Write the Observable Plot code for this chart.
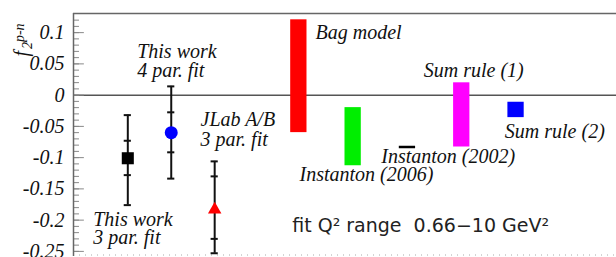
<!DOCTYPE html>
<html><head><meta charset="utf-8">
<script src="https://cdn.jsdelivr.net/npm/d3@7"></script>
<script src="https://cdn.jsdelivr.net/npm/@observablehq/plot@0.6"></script>
<style>body{margin:0;background:#fff;overflow:hidden}</style>
</head><body><div id="chart"></div>
<script>
// Measurements (points with inner/outer error bars)
const measNames = ["This work 3 par. fit", "This work 4 par. fit", "JLab A/B 3 par. fit"];
const measX = [1.0, 1.8, 2.6];
const measValue = [-0.101, -0.060, -0.183];
const measInnerLow = [-0.128, -0.0915, -0.230];
const measInnerHigh = [-0.073, -0.0275, -0.130];
const measOuterLow = [-0.176, -0.1336, -0.253];
const measOuterHigh = [-0.032, 0.014, -0.106];

// Model predictions (bands)
const modelNames = ["Bag model", "Instanton (2006)", "Instanton (2002)", "Sum rule (1)", "Sum rule (2)"];
const modelX = [4, 5, 6, 7, 8];
const modelLow = [-0.060, -0.113, -0.083, -0.083, -0.036];
const modelHigh = [0.1205, -0.020, -0.083, 0.0197, -0.0114];

// Axis ticks
const yTicks = [-0.25, -0.2, -0.15, -0.1, -0.05, 0, 0.05, 0.1];
const yTickLabels = ["-0.25", "-0.2", "-0.15", "-0.1", "-0.05", "0", "0.05", "0.1"];
const yMinor = d3.range(-25, 13).map(d => d / 100);

// Annotations
const annoText = ["Bag model", "Instanton (2006)", "Instanton (2002)", "Sum rule (1)", "Sum rule (2)",
  "This work", "4 par. fit", "JLab A/B", "3 par. fit", "This work", "3 par. fit"];
const annoX = [4.457, 4.162, 5.667, 6.451, 7.943, 1.173, 1.173, 2.339, 2.339, 0.363, 0.363];
const annoY = [0.0906, -0.138, -0.109, 0.0298, -0.069, 0.0597, 0.0298, -0.0498, -0.0806, -0.2086, -0.2374];
const rangeNote = "fit Q² range  0.66−10 GeV²";

const xDomain = [0, 10];
const yDomain = [-0.2582, 0.1306];

const meas = measNames.map((n, i) => ({name: n, x: measX[i], v: measValue[i],
  il: measInnerLow[i], ih: measInnerHigh[i], ol: measOuterLow[i], oh: measOuterHigh[i]}));
const models = modelNames.map((n, i) => ({name: n, x: modelX[i], lo: modelLow[i], hi: modelHigh[i]}));
const bands = models.filter(d => d.hi > d.lo);
const lines = models.filter(d => d.hi === d.lo);
const annos = annoText.map((t, i) => ({t, x: annoX[i], y: annoY[i]}));
const caps = meas.flatMap(d => [d.il, d.ih, d.ol, d.oh].map(y => ({x: d.x, y})));

const modelColors = ["#ff0000", "#00ee00", "#000000", "#ff00ff", "#0000ff"];
const bw = 0.3, cw = 0.066;
const serif = {fontFamily: "Liberation Serif", fontStyle: "italic", fontSize: 20, fill: "#111"};

const chart = Plot.plot({
  width: 616, height: 257,
  marginLeft: 73, marginRight: 0, marginTop: 13, marginBottom: 1,
  x: {domain: xDomain, axis: null},
  y: {domain: yDomain, axis: null},
  color: {domain: modelNames, range: modelColors},
  style: {background: "#fff", overflow: "visible"},
  marks: [
    Plot.ruleY([yDomain[0]], {stroke: "#aaa", strokeDasharray: "1,5", dy: -1.5}),
    Plot.ruleY([0], {stroke: "#555", strokeWidth: 1.5}),
    Plot.rect(bands, {x1: d => d.x, x2: d => d.x + bw, y1: "lo", y2: "hi", fill: "name"}),
    Plot.ruleY(lines, {y: "lo", x1: d => d.x, x2: d => d.x + bw, stroke: "name", strokeWidth: 2.5}),
    Plot.ruleX(meas, {x: "x", y1: "ol", y2: "oh", stroke: "#111", strokeWidth: 2}),
    Plot.ruleY(caps, {y: "y", x1: d => d.x - cw, x2: d => d.x + cw, stroke: "#111", strokeWidth: 2}),
    Plot.dot(meas.slice(0, 1), {x: "x", y: "v", symbol: "square", r: 6.8, fill: "#000", stroke: "none"}),
    Plot.dot(meas.slice(1, 2), {x: "x", y: "v", symbol: "circle", r: 6.5, fill: "#0000ff", stroke: "none"}),
    Plot.dot(meas.slice(2, 3), {x: "x", y: "v", symbol: "triangle", r: 5, fill: "#ff0000", stroke: "none"}),
    Plot.text(annos, {x: "x", y: "y", text: "t", textAnchor: "start", lineAnchor: "bottom", ...serif}),
    Plot.text([rangeNote], {x: 4.028, y: -0.219, text: d => d, textAnchor: "start", lineAnchor: "bottom",
      fontFamily: "DejaVu Sans", fontSize: 19, fill: "#222"}),
    Plot.ruleY(yMinor, {y: d => d, x1: 0, x2: 0.11, stroke: "#888"}),
    Plot.ruleY(yTicks, {y: d => d, x1: 0, x2: 0.2, stroke: "#888"}),
    Plot.axisY(yTicks, {tickSize: 0, tickPadding: 9, tickFormat: d => yTickLabels[yTicks.indexOf(d)], label: null, ...serif}),
    Plot.ruleX([xDomain[0]], {stroke: "#666", strokeWidth: 1.5}),
    Plot.ruleY([yDomain[1]], {stroke: "#666", strokeWidth: 1.5})
  ]
});

const svg = d3.select(chart);
const lab = svg.append("text").attr("transform", "translate(28,40) rotate(-90)")
  .attr("font-family", "Liberation Serif").attr("font-style", "italic").attr("font-size", 20).attr("fill", "#111");
lab.append("tspan").text("f");
lab.append("tspan").attr("font-size", 14).attr("dy", 4).attr("dx", 2).text("2");
lab.append("tspan").attr("font-size", 14).attr("dy", -8).text("p-n");

document.getElementById("chart").appendChild(chart);
</script>
</body></html>
